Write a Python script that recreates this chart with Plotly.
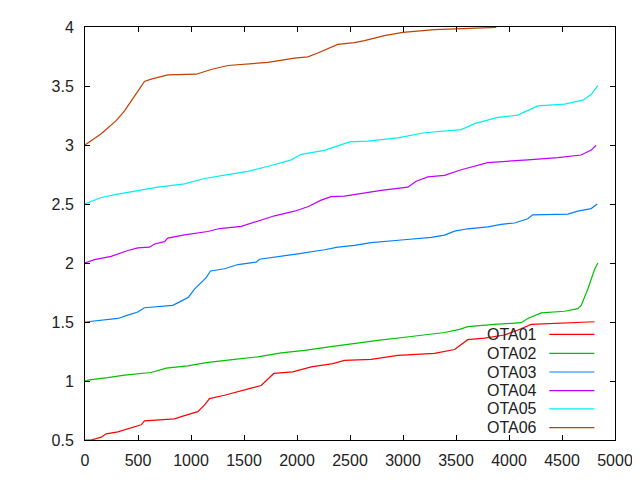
import plotly.graph_objects as go

names = ["OTA01", "OTA02", "OTA03", "OTA04", "OTA05", "OTA06"]
colors = ["#ff0000", "#00c000", "#0080ff", "#c000ff", "#00eeee", "#c04000"]

ota01_x = [0, 58, 153, 200, 310, 436, 530, 561, 844, 939, 1064, 1127, 1175, 1316, 1442, 1568, 1662, 1725,
           1781, 1960, 2134, 2338, 2448, 2700, 2951, 3297, 3486, 3611, 3769, 3958, 4080, 4209, 4649, 4807]
ota01_y = [0.5, 0.5, 0.524, 0.552, 0.569, 0.602, 0.629, 0.662, 0.679, 0.707, 0.74, 0.796, 0.851, 0.879,
           0.906, 0.939, 0.962, 1.017, 1.064, 1.078, 1.12, 1.148, 1.175, 1.183, 1.217, 1.234, 1.267, 1.35,
           1.363, 1.39, 1.43, 1.48, 1.494, 1.502]

ota02_x = [0, 42, 215, 373, 624, 766, 970, 1143, 1410, 1630, 1851, 2071, 2338, 2448, 2762, 3077, 3392,
           3533, 3611, 3863, 4115, 4177, 4304, 4524, 4649, 4681, 4712, 4744, 4807, 4838]
ota02_y = [1.0, 1.009, 1.028, 1.05, 1.072, 1.109, 1.128, 1.155, 1.183, 1.205, 1.239, 1.26, 1.294, 1.308,
           1.344, 1.377, 1.411, 1.438, 1.461, 1.48, 1.494, 1.53, 1.577, 1.591, 1.613, 1.641, 1.71, 1.78,
           1.945, 2.0]

ota03_x = [0, 153, 310, 404, 498, 561, 828, 907, 976, 1033, 1143, 1184, 1316, 1442, 1615, 1646, 1788,
           2008, 2259, 2385, 2542, 2700, 2983, 3266, 3392, 3486, 3611, 3800, 3926, 4052, 4177, 4224,
           4554, 4649, 4775, 4832]
ota03_y = [1.5, 1.513, 1.53, 1.558, 1.585, 1.621, 1.641, 1.677, 1.71, 1.779, 1.876, 1.932, 1.951, 1.987,
           2.007, 2.032, 2.048, 2.078, 2.112, 2.134, 2.15, 2.173, 2.195, 2.217, 2.236, 2.27, 2.29, 2.306,
           2.328, 2.339, 2.375, 2.408, 2.414, 2.439, 2.461, 2.5]

ota04_x = [0, 90, 247, 404, 498, 608, 656, 750, 781, 939, 1158, 1269, 1474, 1662, 1788, 1976, 2102,
           2228, 2322, 2448, 2794, 3046, 3124, 3234, 3392, 3549, 3722, 3800, 4177, 4460, 4681, 4775, 4822]
ota04_y = [2.0, 2.028, 2.056, 2.106, 2.128, 2.134, 2.161, 2.181, 2.211, 2.239, 2.267, 2.292, 2.311,
           2.367, 2.40, 2.439, 2.477, 2.533, 2.563, 2.567, 2.616, 2.643, 2.693, 2.73, 2.743, 2.79, 2.832,
           2.851, 2.874, 2.893, 2.915, 2.957, 2.998]

ota05_x = [0, 153, 310, 498, 687, 939, 1127, 1347, 1536, 1756, 1945, 2039, 2259, 2385, 2495, 2668, 2951,
           3203, 3549, 3675, 3895, 4083, 4272, 4524, 4696, 4775, 4838]
ota05_y = [2.5, 2.555, 2.583, 2.61, 2.643, 2.67, 2.716, 2.749, 2.776, 2.826, 2.874, 2.921, 2.954, 2.993,
           3.026, 3.032, 3.06, 3.104, 3.131, 3.181, 3.234, 3.253, 3.331, 3.347, 3.38, 3.428, 3.503]

ota06_x = [0, 153, 294, 373, 467, 561, 624, 781, 1049, 1190, 1347, 1568, 1725, 1976, 2102, 2196, 2385,
           2542, 2637, 2825, 2998, 3297, 3597, 3880]
ota06_y = [3.0, 3.096, 3.206, 3.289, 3.414, 3.539, 3.558, 3.594, 3.60, 3.64, 3.674, 3.686, 3.70, 3.736,
           3.747, 3.78, 3.852, 3.868, 3.885, 3.927, 3.954, 3.977, 3.99, 3.997]

series = [(ota01_x, ota01_y), (ota02_x, ota02_y), (ota03_x, ota03_y),
          (ota04_x, ota04_y), (ota05_x, ota05_y), (ota06_x, ota06_y)]

fnt = dict(family="Liberation Sans", size=16, color="#222222")

fig = go.Figure()
for (xs, ys), name, col in zip(series, names, colors):
    fig.add_trace(go.Scatter(x=xs, y=ys, mode="lines", name=name,
                             line=dict(color=col, width=1.2), showlegend=False))

# gnuplot style key: text on the left, sample line on the right
key_y = [0.2558, 0.2097, 0.1646, 0.1195, 0.0753, 0.0302]
for name, col, ky in zip(names, colors, key_y):
    fig.add_annotation(x=0.856, y=ky, xref="paper", yref="paper", text=name, showarrow=False,
                       xanchor="right", yanchor="middle", font=fnt)
    fig.add_shape(type="line", xref="paper", yref="paper", x0=0.876, x1=0.961, y0=ky, y1=ky,
                  line=dict(color=col, width=1.2))

axis_style = dict(showline=True, linecolor="black", linewidth=1, mirror="ticks", ticks="inside",
                  ticklen=5, tickcolor="black", showgrid=False, zeroline=False, tickfont=fnt)

fig.update_xaxes(range=[0, 5000], dtick=500, tickformat="d", ticklabelstandoff=6, **axis_style)
fig.update_yaxes(range=[0.5, 4], dtick=0.5, ticklabelstandoff=7, **axis_style)
# page body adds 8px offset, so margins are shifted to land the box where the original sits
fig.update_layout(width=640, height=480, margin=dict(l=77, r=33, t=11, b=48),
                  plot_bgcolor="white", paper_bgcolor="white")

fig.write_html("out.html")
